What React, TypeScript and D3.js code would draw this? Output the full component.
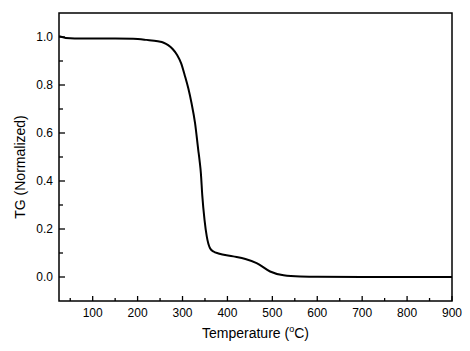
import { useMemo } from 'react';
import * as d3 from 'd3';

// TG curve: temperature (°C) vs normalized mass
const temperature = [
  25, 40, 60, 100, 150, 190, 220, 245, 258, 268, 278, 288, 297, 305, 313, 320, 328, 335, 338, 341, 344,
  349, 354, 361, 369, 380, 413, 440, 465, 495, 525, 562, 600, 700, 800, 900,
];
const tgValue = [
  1.003, 0.996, 0.994, 0.994, 0.994, 0.993, 0.988, 0.982, 0.976, 0.966, 0.95, 0.925, 0.89, 0.84, 0.785,
  0.725, 0.64, 0.53, 0.485, 0.43, 0.34, 0.238, 0.169, 0.121, 0.106, 0.098, 0.086, 0.075, 0.058, 0.023,
  0.007, 0.002, 0.001, 0.0, 0.0, 0.0,
];

const xMajor = [100, 200, 300, 400, 500, 600, 700, 800, 900];
const xMinor = [50, 150, 250, 350, 450, 550, 650, 750, 850];
const yMajor = [0.0, 0.2, 0.4, 0.6, 0.8, 1.0];
const yMinor = [0.1, 0.3, 0.5, 0.7, 0.9];

const WIDTH = 470;
const HEIGHT = 351;
const margin = { top: 13, right: 18, bottom: 50, left: 59 };
const FONT = '"Liberation Sans", Arial, sans-serif';

export default function App() {
  const innerW = WIDTH - margin.left - margin.right;
  const innerH = HEIGHT - margin.top - margin.bottom;

  const x = useMemo(() => d3.scaleLinear().domain([25, 900]).range([0, innerW]), [innerW]);
  const y = useMemo(() => d3.scaleLinear().domain([-0.1, 1.1]).range([innerH, 0]), [innerH]);

  const path = useMemo(() => {
    const pts = temperature.map((t, i) => [t, tgValue[i]] as [number, number]);
    return (
      d3
        .line<[number, number]>()
        .x((d) => x(d[0]))
        .y((d) => y(d[1]))
        .curve(d3.curveMonotoneX)(pts) || ''
    );
  }, [x, y]);

  return (
    <svg
      width={WIDTH}
      height={HEIGHT}
      style={{ position: 'absolute', left: 0, top: 0, background: '#fff' }}
    >
      <g transform={`translate(${margin.left},${margin.top})`}>
        <defs>
          <clipPath id="plot-clip">
            <rect x={0} y={0} width={innerW} height={innerH} />
          </clipPath>
        </defs>

        {/* inward ticks on the bottom axis */}
        {xMajor.map((t) => (
          <line key={`xM${t}`} x1={x(t)} x2={x(t)} y1={innerH} y2={innerH - 5} stroke="#000" strokeWidth={1.3} />
        ))}
        {xMinor.map((t) => (
          <line key={`xm${t}`} x1={x(t)} x2={x(t)} y1={innerH} y2={innerH - 3} stroke="#000" strokeWidth={1.3} />
        ))}
        {xMajor.map((t) => (
          <text
            key={`xl${t}`}
            x={x(t)}
            y={innerH + 16}
            textAnchor="middle"
            fontFamily={FONT}
            fontSize={12}
            fill="#000"
          >
            {t}
          </text>
        ))}

        {/* inward ticks on the left axis */}
        {yMajor.map((t) => (
          <line key={`yM${t}`} x1={0} x2={6} y1={y(t)} y2={y(t)} stroke="#000" strokeWidth={1.3} />
        ))}
        {yMinor.map((t) => (
          <line key={`ym${t}`} x1={0} x2={4} y1={y(t)} y2={y(t)} stroke="#000" strokeWidth={1.3} />
        ))}
        {yMajor.map((t) => (
          <text
            key={`yl${t}`}
            x={-6}
            y={y(t)}
            dy="0.35em"
            textAnchor="end"
            fontFamily={FONT}
            fontSize={12}
            fill="#000"
          >
            {t.toFixed(1)}
          </text>
        ))}

        <path d={path} fill="none" stroke="#000" strokeWidth={2} clipPath="url(#plot-clip)" />

        {/* frame */}
        <rect x={0} y={0} width={innerW} height={innerH} fill="none" stroke="#000" strokeWidth={1.5} />

        <text
          x={innerW / 2}
          y={innerH + 37}
          textAnchor="middle"
          fontFamily={FONT}
          fontSize={14}
          fill="#000"
        >
          Temperature (
          <tspan fontSize={9} dy={-6}>
            o
          </tspan>
          <tspan dy={6}>C)</tspan>
        </text>

        <text
          transform={`translate(${-34},${innerH / 2 + 10}) rotate(-90)`}
          textAnchor="middle"
          fontFamily={FONT}
          fontSize={14}
          fill="#000"
        >
          TG (Normalized)
        </text>
      </g>
    </svg>
  );
}
